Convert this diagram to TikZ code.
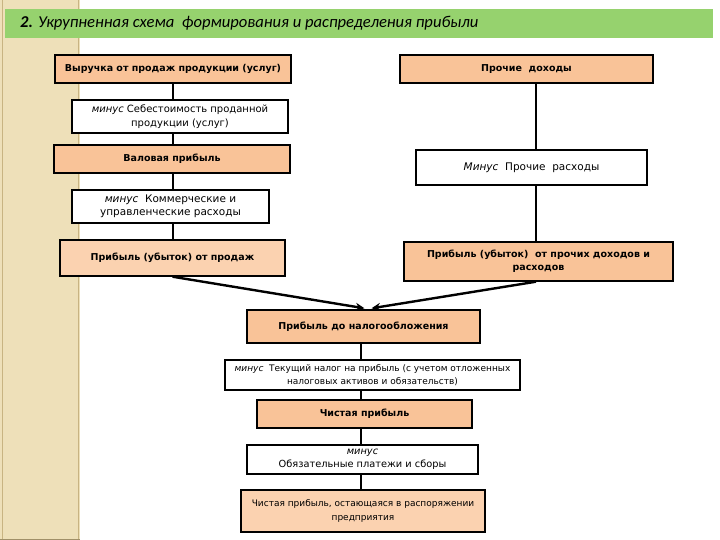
\documentclass[tikz,border=0pt]{standalone}
\usepackage{fontspec}
\setmainfont{DejaVu Sans}
\newfontfamily\titlefont{Carlito}
\usetikzlibrary{arrows.meta,calc}
\definecolor{beigebg}{RGB}{238,224,185}
\definecolor{beigeedge}{RGB}{200,180,130}
\definecolor{titlegreen}{RGB}{150,210,110}
\definecolor{boxorange}{RGB}{249,195,152}
\definecolor{boxlight}{RGB}{251,210,176}
\begin{document}
\begin{tikzpicture}[x=1pt,y=-1pt,
  every node/.style={inner sep=0pt,align=center},
  basebox/.style={draw=black,line width=1.4pt},
  obox/.style={basebox,fill=boxorange,font=\fontsize{9.5}{13}\selectfont\bfseries},
  lbox/.style={basebox,fill=boxlight,font=\fontsize{9.5}{13}\selectfont\bfseries},
  wbox/.style={basebox,fill=white,font=\fontsize{10}{13.5}\selectfont},
  link/.style={draw=black,line width=1.5pt},
  bigarrow/.style={draw=black,line width=2.4pt,-{Stealth[length=9pt,width=8pt]}}]
% background
\useasboundingbox (0,0) rectangle (720,540);
\fill[white] (0,0) rectangle (720,540);
\fill[beigebg] (0,0) rectangle (80,540);
\draw[beigeedge,line width=0.8pt] (2,0) -- (2,540);
\draw[beigeedge,line width=0.6pt] (78.5,0) -- (78.5,540);
\draw[beigeedge!80!black,line width=1pt] (0,539) -- (80,539);
\fill[titlegreen] (5,9) rectangle (713,38);
\node[anchor=west,font=\titlefont\fontsize{16.6}{18}\selectfont\itshape] (title) at (20,23.5)
  {\textbf{2.} Укрупненная схема\ \ формирования и распределения прибыли};

% left column
\node[obox,minimum width=236pt,minimum height=28pt] (b1) at (173,69) {Выручка от продаж продукции (услуг)};
\node[wbox,minimum width=216pt,minimum height=33pt] (b2) at (180,116.5) {\textit{минус} Себестоимость проданной\\продукции (услуг)};
\node[obox,minimum width=236pt,minimum height=28pt] (b3) at (172,159) {Валовая прибыль};
\node[wbox,minimum width=197pt,minimum height=33pt,font=\fontsize{10.5}{13.5}\selectfont] (b4) at (170.5,206.5) {\textit{минус}\ \ Коммерческие и\\управленческие расходы};
\node[lbox,minimum width=225pt,minimum height=36pt] (b5) at (172.5,258) {Прибыль (убыток) от продаж};

% right column
\node[obox,minimum width=253pt,minimum height=28pt] (b6) at (526.5,69) {Прочие\ \ доходы};
\node[wbox,minimum width=231pt,minimum height=35pt,font=\fontsize{10.5}{13.5}\selectfont] (b7) at (531.5,167.5) {\textit{Минус}\ \ Прочие\ \ расходы};
\node[obox,minimum width=269pt,minimum height=39pt] (b8) at (538.5,261.5) {Прибыль (убыток)\ \ от прочих доходов и\\расходов};

% middle column
\node[obox,minimum width=233pt,minimum height=33pt] (b9) at (363.5,326.5) {Прибыль до налогообложения};
\node[wbox,minimum width=295pt,minimum height=30pt,font=\fontsize{9}{12.5}\selectfont] (b10) at (372.5,375) {\textit{минус}\ \ Текущий налог на прибыль (с учетом отложенных\\налоговых активов и обязательств)};
\node[obox,minimum width=215pt,minimum height=28pt] (b11) at (364.5,414) {Чистая прибыль};
\node[wbox,minimum width=231pt,minimum height=29pt,font=\fontsize{9.8}{12.5}\selectfont] (b12) at (362.5,459.5) {\textit{минус}\\Обязательные платежи и сборы};
\node[lbox,minimum width=244pt,minimum height=42pt,font=\fontsize{9}{14}\selectfont] (b13) at (363,511) {Чистая прибыль, остающаяся в распоряжении\\предприятия};

% connectors left
\draw[link] (b1.south) -- (b1.south |- b2.north);
\draw[link] (b1.south |- b2.south) -- (b1.south |- b3.north);
\draw[link] (b1.south |- b3.south) -- (b1.south |- b4.north);
\draw[link] (b1.south |- b4.south) -- (b1.south |- b5.north);
% connectors right
\coordinate (rx) at (536,0);
\draw[link] (rx |- b6.south) -- (rx |- b7.north);
\draw[link] (rx |- b7.south) -- (rx |- b8.north);
% connectors middle
\coordinate (mx) at (361,0);
\draw[link] (mx |- b9.south) -- (mx |- b10.north);
\draw[link] (mx |- b10.south) -- (mx |- b11.north);
\draw[link] (mx |- b11.south) -- (mx |- b12.north);
\draw[link] (mx |- b12.south) -- (mx |- b13.north);
% arrows
\draw[bigarrow] (b5.south) -- ([xshift=1pt,yshift=1pt]b9.north);
\draw[bigarrow] (rx |- b8.south) -- ([xshift=8pt,yshift=1pt]b9.north);
\end{tikzpicture}
\end{document}
